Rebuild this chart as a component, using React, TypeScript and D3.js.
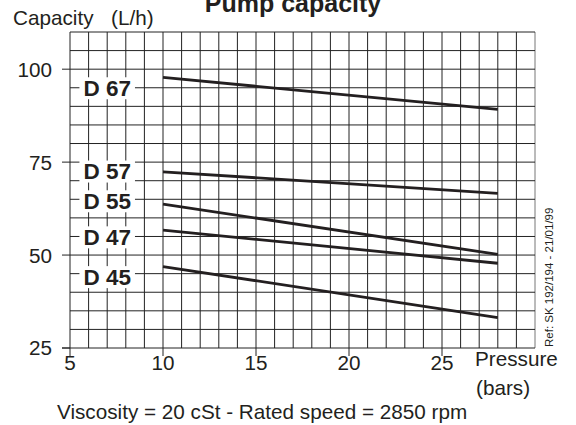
import React, { useEffect, useRef } from 'react';
import * as d3 from 'd3';

// pump capacity vs pressure
const pressures = [10, 28];
const seriesNames = ['D 67', 'D 57', 'D 55', 'D 47', 'D 45'];
const d67 = [97.8, 89.2];
const d57 = [72.4, 66.6];
const d55 = [63.7, 50.2];
const d47 = [56.7, 47.8];
const d45 = [46.9, 33.2];
const labelPressure = 7;
const labelValues = [95, 72.6, 64.6, 54.9, 44.2];
const xTicks = [5, 10, 15, 20, 25];
const yTicks = [25, 50, 75, 100];

const FONT = '"Liberation Sans", Arial, Helvetica, sans-serif';
const INK = '#231f20';
const FS = 20.7;

function PumpChart() {
  const svgRef = useRef<SVGSVGElement>(null);

  useEffect(() => {
    const svg = d3.select(svgRef.current);
    svg.selectAll('*').remove();

    const x = d3.scaleLinear().domain([5, 30]).range([70, 535]);
    const y = d3.scaleLinear().domain([25, 110]).range([348, 32]);
    const series = [d67, d57, d55, d47, d45];

    const grid = svg.append('g').attr('stroke', '#222').attr('stroke-width', 1);

    // vertical grid (1 bar steps)
    d3.range(5, 31).forEach(p => {
      grid.append('line')
        .attr('x1', x(p)).attr('x2', x(p))
        .attr('y1', y(110)).attr('y2', y(25))
        .attr('stroke', p === 30 ? '#777' : '#222');
    });
    // horizontal grid (5 L/h steps)
    d3.range(25, 111, 5).forEach(v => {
      grid.append('line')
        .attr('x1', v === 25 ? 62 : x(5)).attr('x2', x(30))
        .attr('y1', y(v)).attr('y2', y(v));
    });

    // ticks
    yTicks.forEach(v => {
      grid.append('line').attr('x1', 62).attr('x2', x(5)).attr('y1', y(v)).attr('y2', y(v));
    });
    xTicks.forEach(p => {
      grid.append('line').attr('x1', x(p)).attr('x2', x(p)).attr('y1', y(25)).attr('y2', y(25) + 8);
    });

    const txt = svg.append('g').attr('font-family', FONT).attr('fill', INK);

    xTicks.forEach(p => {
      txt.append('text').attr('x', x(p)).attr('y', 370)
        .attr('text-anchor', 'middle').attr('font-size', FS).text(p);
    });
    yTicks.forEach(v => {
      txt.append('text').attr('x', 52).attr('y', y(v)).attr('dy', '0.36em')
        .attr('text-anchor', 'end').attr('font-size', FS).text(v);
    });

    // series labels with white boxes
    const labels = svg.append('g').attr('font-family', FONT);
    seriesNames.forEach((name, i) => {
      const t = labels.append('text')
        .attr('x', x(labelPressure)).attr('y', y(labelValues[i])).attr('dy', '0.36em')
        .attr('text-anchor', 'middle')
        .attr('font-size', 22.5).attr('font-weight', 'bold').attr('fill', INK)
        .text(name);
      const bb = (t.node() as SVGTextElement).getBBox();
      labels.insert('rect', () => t.node())
        .attr('x', bb.x - 4).attr('y', y(labelValues[i]) - 10.5)
        .attr('width', bb.width + 8).attr('height', 22)
        .attr('fill', '#fff');
    });

    const line = d3.line<number>()
      .x((_, i) => x(pressures[i]))
      .y(d => y(d));

    svg.append('g').selectAll('path')
      .data(series)
      .join('path')
      .attr('d', d => line(d))
      .attr('fill', 'none')
      .attr('stroke', INK)
      .attr('stroke-width', 2.8);

    txt.append('text').attr('x', 13).attr('y', 25).attr('font-size', FS).text('Capacity');
    txt.append('text').attr('x', 111).attr('y', 25).attr('font-size', FS).text('(L/h)');
    txt.append('text').attr('x', 293).attr('y', 12).attr('text-anchor', 'middle')
      .attr('font-size', 25).attr('font-weight', 'bold').text('Pump capacity');
    txt.append('text').attr('x', 475).attr('y', 366).attr('font-size', FS).text('Pressure');
    txt.append('text').attr('x', 476).attr('y', 395).attr('font-size', FS).text('(bars)');
    txt.append('text').attr('x', 57).attr('y', 419).attr('font-size', FS)
      .text('Viscosity = 20 cSt - Rated speed = 2850 rpm');
    txt.append('text').attr('transform', 'translate(553,347) rotate(-90)')
      .attr('font-size', 11.5).text('Ref: SK 192/194 - 21/01/99');
  }, []);

  return (
    <svg
      ref={svgRef}
      width={576}
      height={425}
      style={{ position: 'absolute', left: 0, top: 0, background: '#fff' }}
    />
  );
}

export default function App() {
  return <PumpChart />;
}
